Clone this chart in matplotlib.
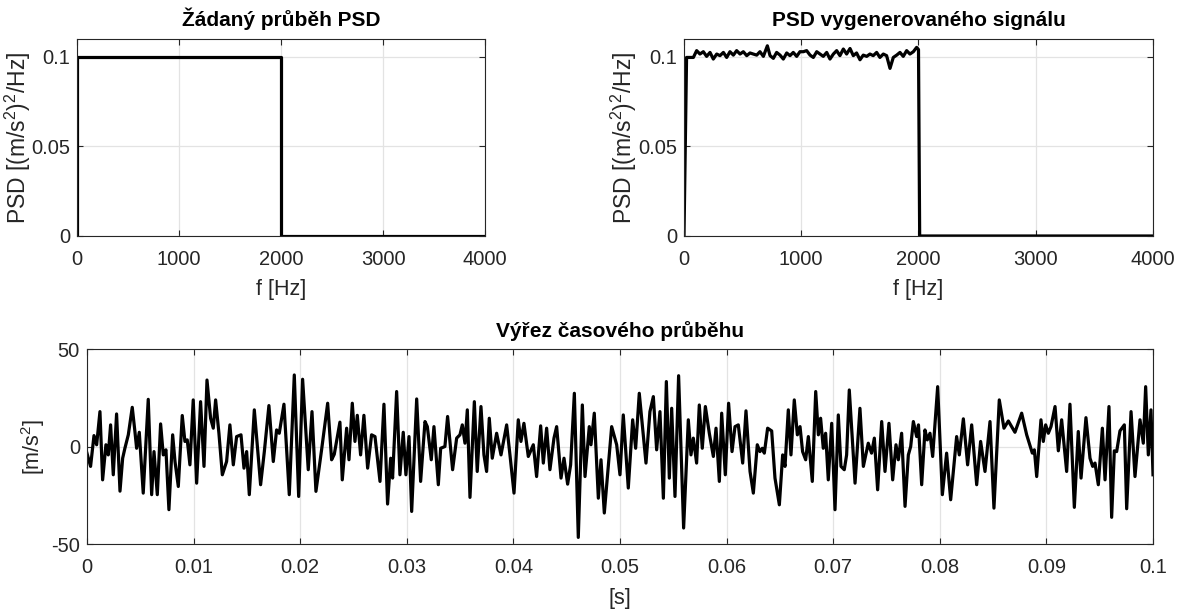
import numpy as np
import matplotlib
matplotlib.use('Agg')
import matplotlib.pyplot as plt

plt.rcParams['font.family'] = ['Liberation Sans', 'DejaVu Sans']
plt.rcParams['mathtext.default'] = 'regular'
plt.rcParams['axes.unicode_minus'] = False

# desired PSD (step shape)
req_f = [0, 0, 2000, 2000, 4000]
req_psd = [0, 0.1, 0.1, 0, 0]

# PSD of the generated signal
gen_f = [0, 22, 80, 108, 136, 165, 193, 222, 250, 279,
         307, 336, 364, 392, 421, 449, 478, 506, 535, 563,
         591, 620, 648, 677, 711, 734, 762, 790, 819, 847,
         876, 904, 932, 961, 989, 1018, 1046, 1075, 1103, 1132,
         1160, 1188, 1217, 1245, 1274, 1302, 1330, 1359, 1387, 1416,
         1444, 1472, 1501, 1529, 1558, 1586, 1614, 1643, 1671, 1700,
         1728, 1757, 1785, 1814, 1842, 1870, 1899, 1927, 1956, 1984,
         2000, 2010, 4000]
gen_psd = [0, 0.0996, 0.0996, 0.1034, 0.1015, 0.1028, 0.1002, 0.1024, 0.0987, 0.1015,
           0.1006, 0.1024, 0.0996, 0.1028, 0.1009, 0.1034, 0.1015, 0.1028, 0.1006, 0.1021,
           0.1015, 0.1009, 0.1028, 0.1002, 0.1061, 0.1006, 0.0991, 0.1024, 0.1009, 0.0987,
           0.1021, 0.1006, 0.1024, 0.1002, 0.1028, 0.1028, 0.1034, 0.1009, 0.0996, 0.1028,
           0.1015, 0.1002, 0.1024, 0.0987, 0.1015, 0.1034, 0.1006, 0.1043, 0.1015, 0.1046,
           0.1006, 0.1021, 0.0983, 0.1009, 0.1002, 0.1015, 0.1006, 0.1024, 0.0996, 0.1015,
           0.1006, 0.0935, 0.0996, 0.1009, 0.1024, 0.1002, 0.1034, 0.1015, 0.1028, 0.1052,
           0.1040, 0, 0]

# time signal excerpt, t in ms, acceleration in m/s^2
sig_t = [0.0, 0.34, 0.66, 0.91, 1.22, 1.47, 1.78, 2.00, 2.22, 2.47,
         2.78, 3.10, 3.35, 3.56, 3.88, 4.25, 4.50, 4.66, 4.91, 5.28,
         5.75, 6.07, 6.29, 6.60, 6.91, 7.16, 7.41, 7.69, 8.04, 8.26,
         8.57, 8.94, 9.19, 9.41, 9.66, 9.97, 10.29, 10.66, 10.98, 11.26,
         11.60, 11.85, 12.07, 12.38, 12.70, 13.10, 13.41, 13.73, 14.04, 14.45,
         14.73, 14.98, 15.23, 15.70, 16.29, 16.64, 17.07, 17.48, 17.79, 18.04,
         18.48, 18.98, 19.45, 19.86, 20.23, 20.76, 21.11, 21.48, 22.01, 22.58,
         22.95, 23.20, 23.73, 23.95, 24.36, 24.58, 24.89, 25.14, 25.36, 25.67,
         25.98, 26.33, 26.70, 27.02, 27.49, 27.86, 28.20, 28.49, 28.67, 29.05,
         29.36, 29.67, 29.92, 30.21, 30.46, 30.93, 31.30, 31.71, 31.93, 32.30,
         32.55, 32.96, 33.18, 33.58, 33.83, 34.30, 34.68, 34.99, 35.21, 35.46,
         35.68, 35.93, 36.34, 36.61, 36.96, 37.24, 37.49, 37.74, 38.02, 38.43,
         38.84, 39.37, 39.68, 40.06, 40.46, 40.71, 40.99, 41.40, 41.87, 42.18,
         42.56, 42.81, 43.12, 43.43, 43.81, 44.06, 44.47, 44.75, 45.09, 45.37,
         45.72, 46.09, 46.47, 46.72, 47.12, 47.28, 47.59, 47.97, 48.22, 48.53,
         49.22, 49.69, 50.00, 50.31, 50.78, 51.19, 51.47, 51.81, 52.44, 52.81,
         53.13, 53.44, 53.75, 54.07, 54.35, 54.63, 54.85, 55.16, 55.50, 55.97,
         56.41, 56.66, 56.88, 57.19, 57.44, 57.72, 58.01, 58.38, 58.76, 59.01,
         59.32, 59.54, 59.88, 60.19, 60.51, 60.79, 61.10, 61.51, 61.82, 62.20,
         62.51, 62.88, 63.13, 63.35, 63.54, 63.85, 64.23, 64.54, 64.95, 65.26,
         65.48, 65.79, 66.04, 66.35, 66.64, 66.89, 67.13, 67.42, 67.67, 68.04,
         68.36, 68.61, 68.82, 69.07, 69.29, 69.54, 69.86, 70.17, 70.48, 70.73,
         71.04, 71.26, 71.51, 72.05, 72.51, 72.83, 73.29, 73.60, 73.86, 74.17,
         74.55, 74.86, 75.23, 75.58, 75.89, 76.11, 76.42, 76.74, 77.05, 77.27,
         77.52, 77.83, 78.00, 78.30, 78.61, 78.83, 79.08, 79.33, 79.80, 80.24,
         80.64, 81.02, 81.58, 81.83, 82.21, 82.61, 82.99, 83.46, 83.83, 84.24,
         84.71, 85.08, 85.58, 86.02, 86.43, 87.05, 87.68, 88.15, 88.68, 88.87,
         89.09, 89.49, 89.71, 89.93, 90.18, 90.43, 90.81, 91.12, 91.43, 91.90,
         92.21, 92.62, 92.99, 93.25, 93.71, 94.09, 94.34, 94.56, 94.87, 95.25,
         95.50, 95.87, 96.12, 96.37, 96.59, 96.90, 97.31, 97.53, 97.94, 98.31,
         98.78, 99.09, 99.31, 99.56, 99.81, 100.0]
sig_a = [-3.4, -10.2, 5.6, 0.9, 17.9, -17.1, 0.9, -4.3, 11.1, -14.5,
         16.7, -22.9, -6.0, -0.9, 6.0, 20.1, 7.7, -0.9, 7.3, -23.9,
         24.2, -24.7, -2.6, -24.7, 11.6, -4.3, -1.7, -32.4, 6.0, -7.7,
         -20.5, 15.9, 2.6, 3.4, -9.4, 23.9, -18.8, 23.0, -10.2, 34.1,
         14.5, 9.4, 23.9, 6.8, -14.5, -7.7, 11.1, -9.4, 5.1, 6.0,
         -11.1, -2.6, -24.7, 18.8, -19.6, -2.6, 21.0, -7.7, 8.5, 6.8,
         21.7, -24.7, 36.7, -25.6, 34.5, -11.9, 17.9, -23.0, -1.7, 22.2,
         -6.8, -4.0, 12.5, -17.1, 9.4, -6.8, 22.2, 2.6, 16.0, -4.3,
         16.0, -11.1, 6.0, 5.1, -17.9, 21.7, -29.5, -6.0, -16.2, 28.2,
         -14.5, 7.3, -14.5, 5.1, -33.3, 24.4, -17.9, 12.8, 10.2, -6.8,
         10.2, -19.6, -0.9, 0.0, 15.4, -11.9, 4.3, 6.0, 11.1, 1.7,
         18.8, -26.1, 23.0, -12.8, 20.5, -4.3, -12.8, 14.5, -6.0, 6.8,
         -4.3, 11.1, -4.3, -23.9, 13.7, 2.6, 11.9, -5.1, 0.9, -15.4,
         10.6, -8.5, 9.4, -11.9, 4.3, 10.2, -16.2, -6.0, -19.3, -9.4,
         27.3, -46.6, 21.3, -15.4, 10.2, 0.9, 17.1, -26.5, -6.8, -34.1,
         10.2, 0.9, -14.5, 16.2, -21.3, 13.7, -0.9, 27.3, -8.5, 17.9,
         25.6, -1.7, 17.9, -26.5, 33.3, -16.2, 19.6, -25.6, 36.3, -41.8,
         13.7, -4.3, 4.3, -8.5, 21.3, -0.9, 20.5, 6.8, -5.1, 9.4,
         -17.9, 17.1, -14.5, 22.2, -2.6, 10.2, 11.1, -8.5, 18.3, -12.8,
         -23.9, 0.9, -2.6, -0.9, -3.4, 9.4, 8.0, -16.2, -29.9, -4.3,
         -10.2, 18.8, -4.3, 23.9, 6.0, 10.2, -2.6, -6.8, 5.1, -17.9,
         28.2, 6.0, 14.5, -0.9, 6.8, -17.1, 11.9, -32.4, 16.2, -10.2,
         -11.9, -4.3, 29.0, -18.8, 19.6, -10.2, 1.7, -3.4, 4.3, -22.2,
         12.8, -12.8, 11.9, -17.1, 0.9, -6.8, 6.8, -30.7, -4.3, 0.0,
         12.8, 5.1, 11.1, -19.6, 8.5, 3.4, 6.8, -5.1, 30.7, -24.7,
         -3.4, -27.3, 5.1, -4.3, 14.2, -9.4, 11.1, -19.6, 2.6, -12.8,
         12.8, -31.6, 23.9, 9.4, 13.1, 7.3, 17.1, 6.0, -3.4, -1.7,
         -15.4, 13.7, 2.6, 11.1, 6.8, 10.2, 20.5, -2.2, 13.7, -12.8,
         21.7, -31.2, 7.7, -16.2, 14.8, -6.0, -10.2, -8.5, -19.6, 9.4,
         -17.1, 20.5, -36.3, -2.2, -2.6, 8.0, 11.1, -31.9, 17.9, -15.4,
         13.7, 1.7, 30.7, -4.3, 18.8, -14.5]

time_ticks = np.arange(0, 0.1001, 0.01)
time_labels = ['0', '0.01', '0.02', '0.03', '0.04', '0.05', '0.06', '0.07', '0.08', '0.09', '0.1']

fig = plt.figure(figsize=(11.91, 6.12), dpi=100)
ax1 = fig.add_axes([0.0647, 0.6144, 0.3426, 0.3222])
ax2 = fig.add_axes([0.5743, 0.6144, 0.3938, 0.3222])
ax3 = fig.add_axes([0.0730, 0.1111, 0.8951, 0.3186])

grey = '#262626'


def style(ax):
    ax.grid(True, color='#e3e3e3', linewidth=0.9)
    ax.set_axisbelow(True)
    ax.tick_params(direction='in', top=True, right=True, length=4, labelsize=14.5,
                   colors=grey)
    ax.tick_params(axis='x', pad=10)
    ax.tick_params(axis='y', pad=5)
    for s in ax.spines.values():
        s.set_color(grey)
        s.set_linewidth(0.8)


ax1.plot(req_f, req_psd, color='k', linewidth=2.3)
ax1.set_xlim(0, 4000)
ax1.set_ylim(0, 0.11)
ax1.set_xticks([0, 1000, 2000, 3000, 4000])
ax1.set_yticks([0, 0.05, 0.1])
ax1.set_yticklabels(['0', '0.05', '0.1'])
ax1.set_title('Žádaný průběh PSD', fontsize=15, fontweight='bold', pad=9)
ax1.set_xlabel('f [Hz]', fontsize=15.5, color=grey, labelpad=7)
ax1.set_ylabel('PSD [(m/s$^2$)$^2$/Hz]', fontsize=16.5, color=grey, labelpad=-1)
style(ax1)

ax2.plot(gen_f, gen_psd, color='k', linewidth=2.3)
ax2.set_xlim(0, 4000)
ax2.set_ylim(0, 0.11)
ax2.set_xticks([0, 1000, 2000, 3000, 4000])
ax2.set_yticks([0, 0.05, 0.1])
ax2.set_yticklabels(['0', '0.05', '0.1'])
ax2.set_title('PSD vygenerovaného signálu', fontsize=15, fontweight='bold', pad=9)
ax2.set_xlabel('f [Hz]', fontsize=15.5, color=grey, labelpad=7)
ax2.set_ylabel('PSD [(m/s$^2$)$^2$/Hz]', fontsize=16.5, color=grey, labelpad=-1)
style(ax2)

ax3.plot(np.array(sig_t) / 1000, sig_a, color='k', linewidth=2.3)
ax3.set_xlim(0, 0.1)
ax3.set_ylim(-50, 50)
ax3.set_xticks(time_ticks)
ax3.set_xticklabels(time_labels)
ax3.set_yticks([-50, 0, 50])
ax3.set_title('Výřez časového průběhu', fontsize=15, fontweight='bold', pad=9)
ax3.set_xlabel('[s]', fontsize=15.5, color=grey, labelpad=8)
ax3.set_ylabel('[m/s$^2$]', fontsize=15.5, color=grey, labelpad=3)
style(ax3)

fig.savefig('out.png', dpi=100)
